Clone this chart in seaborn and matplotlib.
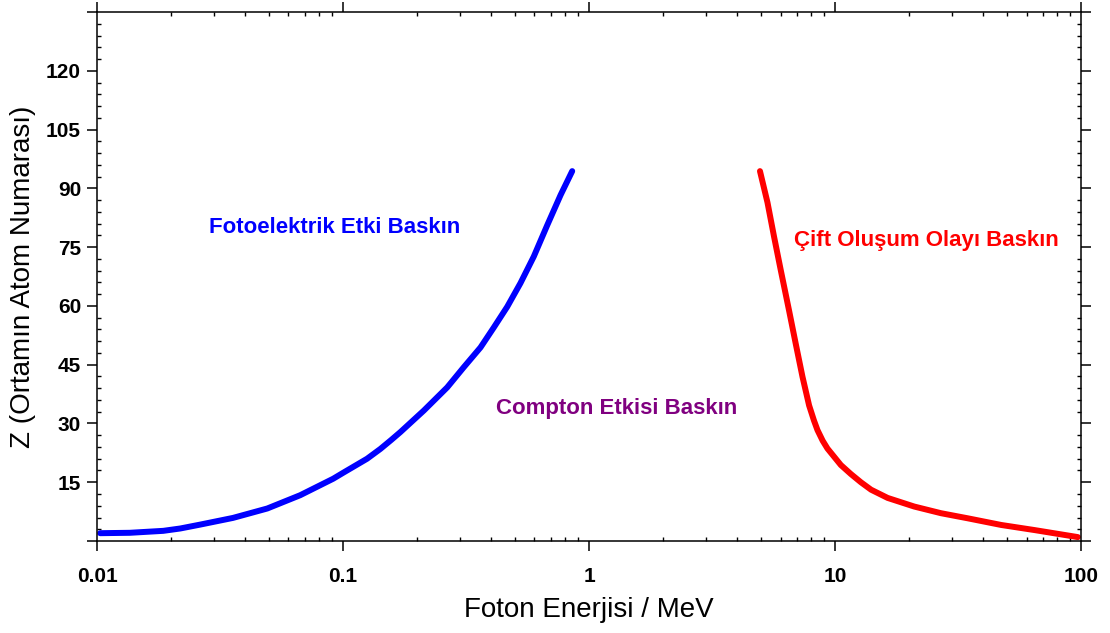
import numpy as np
import pandas as pd
import matplotlib
matplotlib.use("Agg")
import matplotlib.pyplot as plt
import matplotlib.ticker as mticker
import seaborn as sns

# Photoelectric / Compton boundary (energy in MeV, atomic number Z)
photo_energy = [0.0103, 0.0136, 0.0186, 0.0218, 0.0263, 0.0357, 0.0492, 0.0670,
                0.0912, 0.1000, 0.1252, 0.1418, 0.157, 0.171, 0.213, 0.265, 0.309,
                0.362, 0.410, 0.465, 0.526, 0.596, 0.676, 0.766, 0.854]
photo_z = [2.0, 2.1, 2.6, 3.2, 4.2, 5.9, 8.3, 11.7,
           15.9, 17.4, 21.0, 23.5, 25.8, 27.8, 33.3, 39.2, 44.3,
           49.4, 54.5, 59.8, 65.8, 72.6, 80.6, 88.3, 94.4]

# Compton / pair production boundary
pair_energy = [4.95, 5.31, 5.65, 6.01, 6.50, 6.92, 7.37, 7.84, 8.20, 8.48, 8.90, 9.31,
               10.55, 11.59, 12.73, 14.0, 16.35, 20.97, 26.94, 34.6, 47.3, 64.6, 97.0]
pair_z = [94.4, 86.4, 77.6, 69.2, 58.8, 50.3, 41.9, 34.6, 30.8, 28.3, 25.6, 23.6,
          19.4, 17.1, 15.0, 13.1, 11.0, 8.8, 7.1, 5.8, 4.1, 2.8, 1.0]

x_ticks = [0.01, 0.1, 1, 10, 100]
x_tick_labels = ["0.01", "0.1", "1", "10", "100"]
y_ticks = [15, 30, 45, 60, 75, 90, 105, 120]

region_labels = ["Fotoelektrik Etki Baskın", "Compton Etkisi Baskın", "Çift Oluşum Olayı Baskın"]
region_x = [0.092, 1.30, 23.5]
region_y = [80, 33.8, 76.6]
region_colors = ["#0000FF", "#800080", "#FF0000"]

sns.set_style("white")
plt.rcParams["font.family"] = ["Liberation Sans", "DejaVu Sans"]
plt.rcParams["text.color"] = "black"
plt.rcParams["axes.labelcolor"] = "black"
plt.rcParams["xtick.color"] = "black"
plt.rcParams["ytick.color"] = "black"

df = pd.concat([
    pd.DataFrame({"E": photo_energy, "Z": photo_z, "curve": "photo"}),
    pd.DataFrame({"E": pair_energy, "Z": pair_z, "curve": "pair"}),
], ignore_index=True)

fig = plt.figure(figsize=(11.1, 6.33), dpi=100)
ax = fig.add_axes([0.0874, 0.1453, 0.8866, 0.8357])

sns.lineplot(data=df, x="E", y="Z", hue="curve", palette={"photo": "#0000FF", "pair": "#FF0000"},
             sort=False, linewidth=4.3, legend=False, ax=ax, estimator=None)

ax.set_xscale("log")
ax.set_xlim(0.01, 100)
ax.set_ylim(0, 135)

ax.xaxis.set_major_locator(mticker.FixedLocator(x_ticks))
ax.xaxis.set_major_formatter(mticker.FixedFormatter(x_tick_labels))
ax.xaxis.set_minor_locator(mticker.LogLocator(base=10, subs=np.arange(2, 10)))
ax.xaxis.set_minor_formatter(mticker.NullFormatter())

ax.yaxis.set_major_locator(mticker.MultipleLocator(15))
ax.yaxis.set_minor_locator(mticker.MultipleLocator(3))
ax.yaxis.set_major_formatter(mticker.FuncFormatter(
    lambda v, p: f"{int(v)}" if int(round(v)) in y_ticks else ""))

for side in ["left", "right", "top", "bottom"]:
    ax.spines[side].set_visible(True)
    ax.spines[side].set_color("black")
    ax.spines[side].set_linewidth(1.1)

ax.tick_params(which="major", direction="out", length=7.5, width=1.1, color="black",
               labelcolor="black", top=True, right=True, bottom=True, left=True)
ax.tick_params(which="minor", direction="in", length=3, width=1.0, color="black",
               top=True, right=True, bottom=True, left=True)
ax.tick_params(axis="x", which="major", pad=11)
ax.tick_params(axis="y", which="major", pad=4)
for lbl in ax.get_xticklabels() + ax.get_yticklabels():
    lbl.set_fontsize(15)
    lbl.set_fontweight("bold")

ax.set_xlabel("Foton Enerjisi / MeV", fontsize=20, labelpad=8, color="black")
ax.set_ylabel("Z (Ortamın Atom Numarası)", fontsize=20, labelpad=7, color="black")

for text, x, y, c in zip(region_labels, region_x, region_y, region_colors):
    ax.text(x, y, text, color=c, fontsize=16, fontweight="bold", ha="center", va="center")

fig.savefig("out.png", dpi=100, facecolor="white")
